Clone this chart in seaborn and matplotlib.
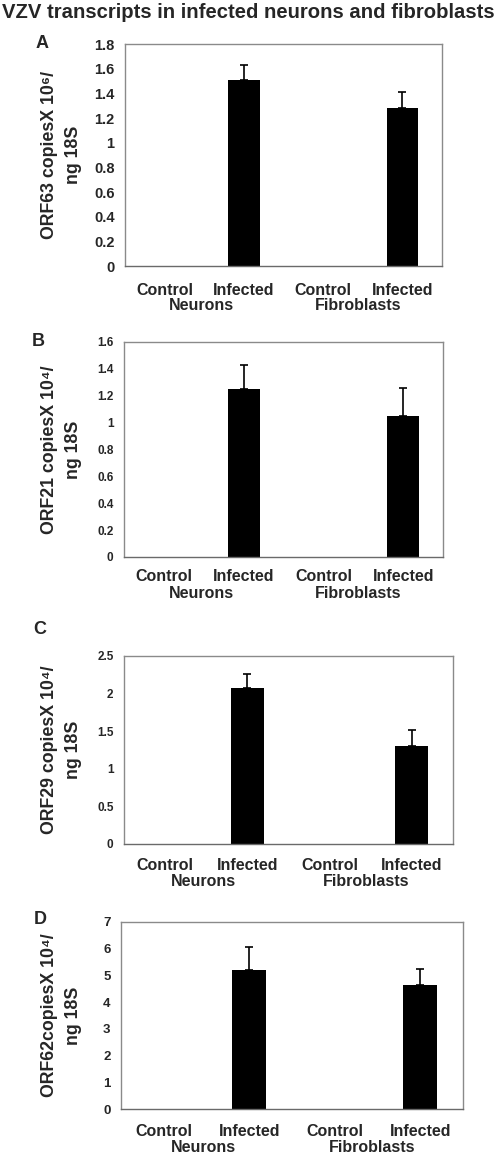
import matplotlib
matplotlib.use("Agg")
import matplotlib.pyplot as plt
import matplotlib.transforms as mtransforms
import seaborn as sns

# data
categories = ["Control N", "Infected N", "Control F", "Infected F"]
tick_labels = ["Control", "Infected", "Control", "Infected"]
groups = ["Neurons", "Fibroblasts"]

orf63 = [0, 1.51, 0, 1.28]
orf63_err = [0, 0.12, 0, 0.13]
orf21 = [0, 1.25, 0, 1.05]
orf21_err = [0, 0.18, 0, 0.21]
orf29 = [0, 2.08, 0, 1.30]
orf29_err = [0, 0.18, 0, 0.21]
orf62 = [0, 5.22, 0, 4.65]
orf62_err = [0, 0.85, 0, 0.58]

sns.set_style("white")
plt.rcParams["font.family"] = ["Liberation Sans", "DejaVu Sans"]
plt.rcParams["font.weight"] = "bold"

fig = plt.figure(figsize=(5, 11.54), dpi=100)
W, H = 500, 1154

fig.text(0.497, 1 - 13 / H, "VZV transcripts in infected neurons and fibroblasts",
         ha="center", va="center", fontsize=14.6, fontweight="bold")

panels = [
    # letter, values, errors, ylabel, ymax, ystep, box(l, r, top, bottom), tick size, letter pos, label size, y of row 1, y of row 2
    ("A", orf63, orf63_err, "ORF63 copiesX 10\u2076/\nng 18S", 1.8, 0.2,
     (125, 442, 44, 266), 10.5, (42, 44), 11.5, 286, 306),
    ("B", orf21, orf21_err, "ORF21 copiesX 10\u2074/\nng 18S", 1.6, 0.2,
     (124, 443, 342, 557), 8.5, (38, 342), 11.5, 574, 594),
    ("C", orf29, orf29_err, "ORF29 copiesX 10\u2074/\nng 18S", 2.5, 0.5,
     (124, 453, 656, 844), 8.5, (40, 630), 11.5, 862, 882),
    ("D", orf62, orf62_err, "ORF62copiesX 10\u2074/\nng 18S", 7, 1,
     (121, 463, 922, 1109), 9.5, (40, 920), 11.5, 1128, 1148),
]

for letter, vals, errs, ylab, ymax, ystep, box, tsize, lpos, labsize, y1, y2 in panels:
    l, r, t, b = box
    ax = fig.add_axes([l / W, 1 - b / H, (r - l) / W, (b - t) / H])
    sns.barplot(x=categories, y=vals, color="black", width=0.4, ax=ax, linewidth=0)

    # only the infected samples carry an (upper) error bar
    idx = [i for i, e in enumerate(errs) if e > 0]
    ax.errorbar(idx, [vals[i] for i in idx],
                yerr=[[0] * len(idx), [errs[i] for i in idx]], fmt="none",
                ecolor="black", elinewidth=1.2, capsize=3, capthick=1.2)

    ax.set_xlim(-0.5, 3.5)
    ax.set_ylim(0, ymax)
    n = int(round(ymax / ystep))
    yt = [round(i * ystep, 2) for i in range(n + 1)]
    ax.set_yticks(yt)
    ax.set_yticklabels([f"{v:g}" for v in yt], fontsize=tsize, fontweight="bold")
    ax.set_xticks([-0.5, 0.5, 1.5, 2.5, 3.5])
    ax.set_xticklabels([])
    ax.set_xticks(range(4), minor=True)
    ax.set_xticklabels(tick_labels, minor=True, fontsize=labsize, fontweight="bold")
    ax.tick_params(axis="x", which="minor", length=0, pad=(y1 - b) - 8)
    ax.tick_params(axis="both", which="major", length=3.5, color="#808080",
                   width=0.8, direction="out")
    ax.tick_params(axis="y", pad=4)
    for s in ax.spines.values():
        s.set_color("#8a8a8a")
        s.set_linewidth(1.0)
    ax.spines["bottom"].set_color("#6a6a6a")
    ax.set_ylabel(ylab, fontsize=12.8, fontweight="bold", linespacing=1.55)
    ax.yaxis.set_label_coords((82 - l) / (r - l), 0.5)
    ax.set_xlabel("")

    trans = mtransforms.blended_transform_factory(ax.transData, fig.transFigure)
    ax.text(0.47, 1 - y2 / H, groups[0], transform=trans, ha="center", va="center",
            fontsize=labsize, fontweight="bold")
    ax.text(2.44, 1 - y2 / H, groups[1], transform=trans, ha="center", va="center",
            fontsize=labsize, fontweight="bold")

    fig.text(lpos[0] / W, 1 - lpos[1] / H, letter, ha="center", va="center",
             fontsize=13, fontweight="bold")

fig.savefig("out.png", dpi=100)
